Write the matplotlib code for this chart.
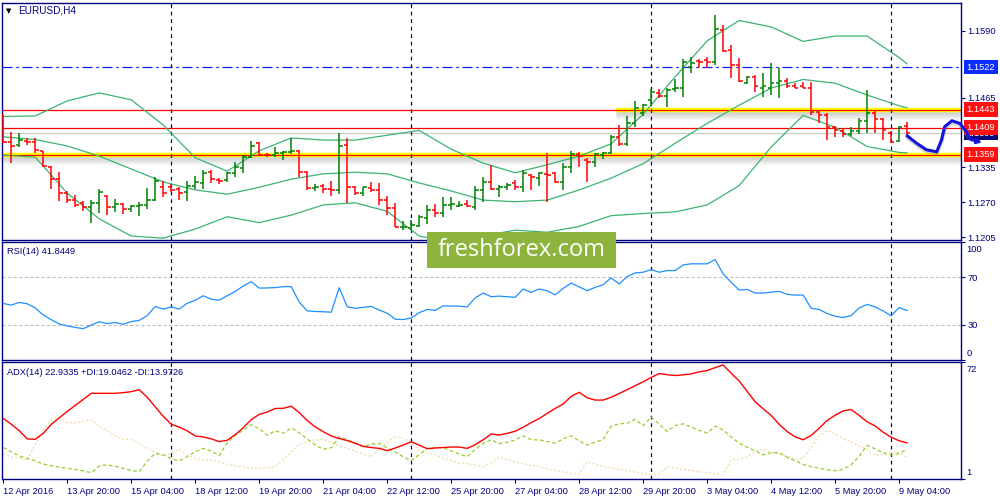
"""EURUSD H4 chart with Bollinger bands, RSI(14) and ADX(14) panels, MT4 style."""
import numpy as np
import matplotlib
matplotlib.use("Agg")
import matplotlib.pyplot as plt
from matplotlib.patches import Rectangle
from matplotlib.transforms import blended_transform_factory as blend

FS = 6.7
plt.rcParams.update({"font.family": "Liberation Sans", "font.size": FS})

NAVY = "#000080"
UP, DOWN = "#008000", "#ff0000"
BAND = "#3cb371"

# --- OHLC, one H4 bar per entry (12 Apr 12:00 .. 9 May 08:00) ---
opens = [1.1431, 1.1382, 1.1376, 1.1385, 1.1382, 1.1366, 1.1335, 1.1313, 1.1288, 1.1274,
         1.1268, 1.1262, 1.1268, 1.1282, 1.1261, 1.1266, 1.1257, 1.1263, 1.1265, 1.1274,
         1.1299, 1.1299, 1.1294, 1.1289, 1.1300, 1.1305, 1.1327, 1.1311, 1.1311, 1.1324,
         1.1334, 1.1355, 1.1380, 1.1359, 1.1358, 1.1362, 1.1363, 1.1366, 1.1327, 1.1296,
         1.1301, 1.1294, 1.1292, 1.1377, 1.1298, 1.1287, 1.1297, 1.1293, 1.1274, 1.1259,
         1.1223, 1.1222, 1.1226, 1.1240, 1.1256, 1.1250, 1.1265, 1.1263, 1.1267, 1.1262,
         1.1293, 1.1308, 1.1294, 1.1298, 1.1305, 1.1298, 1.1321, 1.1315, 1.1323, 1.1324,
         1.1308, 1.1336, 1.1360, 1.1349, 1.1346, 1.1358, 1.1361, 1.1392, 1.1379, 1.1418,
         1.1437, 1.1461, 1.1473, 1.1469, 1.1481, 1.1483, 1.1523, 1.1534, 1.1535, 1.1532,
         1.1591, 1.1554, 1.1526, 1.1493, 1.1504, 1.1484, 1.1484, 1.1493, 1.1497, 1.1487,
         1.1487, 1.1484, 1.1439, 1.1433, 1.1410, 1.1402, 1.1397, 1.1403, 1.1422, 1.1436,
         1.1425, 1.1399, 1.1385, 1.1412]
highs = [1.1435, 1.1401, 1.1399, 1.1390, 1.1390, 1.1366, 1.1338, 1.1327, 1.1291, 1.1283,
         1.1273, 1.1274, 1.1295, 1.1284, 1.1277, 1.1268, 1.1264, 1.1270, 1.1297, 1.1317,
         1.1310, 1.1304, 1.1298, 1.1310, 1.1319, 1.1331, 1.1331, 1.1315, 1.1327, 1.1346,
         1.1358, 1.1384, 1.1383, 1.1362, 1.1373, 1.1366, 1.1389, 1.1368, 1.1328, 1.1304,
         1.1304, 1.1310, 1.1400, 1.1389, 1.1301, 1.1298, 1.1307, 1.1305, 1.1282, 1.1268,
         1.1235, 1.1237, 1.1246, 1.1265, 1.1267, 1.1279, 1.1279, 1.1272, 1.1274, 1.1300,
         1.1318, 1.1340, 1.1302, 1.1306, 1.1311, 1.1331, 1.1323, 1.1327, 1.1361, 1.1327,
         1.1343, 1.1366, 1.1364, 1.1352, 1.1361, 1.1364, 1.1396, 1.1414, 1.1431, 1.1459,
         1.1454, 1.1481, 1.1481, 1.1483, 1.1499, 1.1537, 1.1540, 1.1538, 1.1540, 1.1619,
         1.1601, 1.1563, 1.1539, 1.1506, 1.1507, 1.1512, 1.1530, 1.1520, 1.1501, 1.1492,
         1.1495, 1.1495, 1.1441, 1.1436, 1.1412, 1.1406, 1.1410, 1.1427, 1.1479, 1.1443,
         1.1428, 1.1402, 1.1412, 1.1419]
lows = [1.1381, 1.1344, 1.1373, 1.1376, 1.1361, 1.1335, 1.1294, 1.1272, 1.1268, 1.1261,
        1.1254, 1.1232, 1.1250, 1.1247, 1.1252, 1.1249, 1.1252, 1.1244, 1.1257, 1.1273,
        1.1279, 1.1290, 1.1274, 1.1273, 1.1294, 1.1294, 1.1306, 1.1304, 1.1308, 1.1318,
        1.1325, 1.1353, 1.1358, 1.1354, 1.1355, 1.1348, 1.1360, 1.1317, 1.1292, 1.1291,
        1.1288, 1.1282, 1.1285, 1.1269, 1.1283, 1.1282, 1.1290, 1.1265, 1.1246, 1.1223,
        1.1218, 1.1218, 1.1224, 1.1230, 1.1242, 1.1242, 1.1256, 1.1261, 1.1261, 1.1256,
        1.1271, 1.1293, 1.1279, 1.1292, 1.1293, 1.1290, 1.1292, 1.1300, 1.1271, 1.1306,
        1.1293, 1.1325, 1.1335, 1.1308, 1.1335, 1.1350, 1.1360, 1.1374, 1.1375, 1.1410,
        1.1431, 1.1450, 1.1464, 1.1447, 1.1476, 1.1467, 1.1512, 1.1520, 1.1520, 1.1526,
        1.1551, 1.1501, 1.1495, 1.1491, 1.1476, 1.1467, 1.1470, 1.1464, 1.1483, 1.1483,
        1.1483, 1.1433, 1.1417, 1.1386, 1.1392, 1.1391, 1.1394, 1.1397, 1.1399, 1.1400,
        1.1386, 1.1380, 1.1383, 1.1391]
closes = [1.1382, 1.1374, 1.1386, 1.1383, 1.1367, 1.1338, 1.1313, 1.1288, 1.1274, 1.1265,
          1.1262, 1.1268, 1.1289, 1.1261, 1.1266, 1.1257, 1.1263, 1.1265, 1.1274, 1.1310,
          1.1288, 1.1293, 1.1287, 1.1300, 1.1307, 1.1325, 1.1313, 1.1310, 1.1324, 1.1335,
          1.1355, 1.1375, 1.1358, 1.1358, 1.1362, 1.1364, 1.1366, 1.1327, 1.1296, 1.1298,
          1.1294, 1.1292, 1.1375, 1.1298, 1.1287, 1.1298, 1.1293, 1.1274, 1.1259, 1.1223,
          1.1224, 1.1228, 1.1242, 1.1256, 1.1250, 1.1265, 1.1267, 1.1265, 1.1263, 1.1292,
          1.1308, 1.1294, 1.1299, 1.1303, 1.1299, 1.1324, 1.1317, 1.1324, 1.1321, 1.1308,
          1.1336, 1.1360, 1.1356, 1.1346, 1.1360, 1.1361, 1.1392, 1.1379, 1.1418, 1.1445,
          1.1451, 1.1476, 1.1469, 1.1479, 1.1483, 1.1532, 1.1530, 1.1532, 1.1532, 1.1593,
          1.1553, 1.1526, 1.1496, 1.1503, 1.1487, 1.1487, 1.1493, 1.1496, 1.1487, 1.1484,
          1.1483, 1.1439, 1.1433, 1.1411, 1.1404, 1.1397, 1.1403, 1.1422, 1.1437, 1.1425,
          1.1404, 1.1383, 1.1411, 1.1399]

# Bollinger bands, read every 4th bar
band_idx = [0, 4, 8, 12, 16, 20, 24, 28, 32, 36, 40, 44, 48, 52, 56, 60, 64, 68, 72, 76,
            80, 84, 88, 92, 96, 100, 104, 108, 112, 113]
bb_upper = [1.1430, 1.1431, 1.1459, 1.1474, 1.1461, 1.1414, 1.1353, 1.1328, 1.1366, 1.1390,
            1.1386, 1.1386, 1.1395, 1.1404, 1.1369, 1.1343, 1.1325, 1.1340, 1.1356, 1.1379,
            1.1434, 1.1504, 1.1571, 1.1609, 1.1597, 1.1570, 1.1580, 1.1580, 1.1540, 1.1528]
bb_middle = [1.1392, 1.1387, 1.1375, 1.1356, 1.1332, 1.1308, 1.1293, 1.1285, 1.1298, 1.1313,
             1.1323, 1.1326, 1.1323, 1.1306, 1.1291, 1.1274, 1.1271, 1.1274, 1.1293, 1.1315,
             1.1342, 1.1380, 1.1417, 1.1451, 1.1483, 1.1499, 1.1492, 1.1470, 1.1450, 1.1446]
bb_lower = [1.1358, 1.1354, 1.1287, 1.1239, 1.1207, 1.1203, 1.1220, 1.1243, 1.1232, 1.1246,
            1.1265, 1.1269, 1.1253, 1.1207, 1.1195, 1.1207, 1.1218, 1.1214, 1.1225, 1.1245,
            1.1249, 1.1252, 1.1265, 1.1301, 1.1373, 1.1432, 1.1410, 1.1374, 1.1363, 1.1362]

rsi = [47.8, 46.4, 48.7, 47.5, 44.0, 38.0, 34.0, 30.5, 28.8, 27.5,
       26.5, 29.5, 32.3, 30.8, 31.7, 30.2, 32.5, 33.5, 37.5, 45.3,
       43.0, 44.9, 43.0, 48.0, 50.5, 54.3, 51.3, 50.6, 54.3, 58.0,
       62.5, 66.2, 60.8, 60.9, 61.2, 62.0, 62.0, 49.0, 41.5, 41.0,
       40.8, 40.4, 61.1, 45.0, 43.7, 44.5, 45.3, 42.2, 39.6, 34.5,
       34.2, 35.5, 40.0, 42.7, 41.9, 45.8, 45.6, 45.5, 44.9, 52.5,
       56.6, 53.5, 54.0, 53.5, 53.0, 60.0, 57.2, 60.0, 58.6, 55.0,
       60.6, 65.0, 61.8, 58.6, 61.4, 63.7, 69.4, 64.3, 70.5, 73.6,
       74.2, 76.4, 74.2, 75.6, 75.6, 80.4, 81.3, 81.3, 81.3, 84.9,
       72.8, 65.7, 59.1, 59.7, 56.6, 56.6, 57.3, 58.0, 55.5, 54.9,
       54.9, 43.8, 42.7, 39.3, 37.0, 35.9, 37.5, 44.0, 47.0, 44.9,
       41.5, 37.3, 44.4, 41.8]
rsi_levels = [70, 30]

adx = [37.8, 34.2, 30.3, 25.3, 25.1, 28.7, 34.2, 38.1, 42.0, 45.7,
       49.3, 53.0, 53.0, 53.0, 53.0, 53.4, 54.0, 55.2, 50.6, 44.8,
       39.0, 34.2, 32.5, 30.2, 27.1, 26.5, 25.4, 23.7, 24.5, 27.9,
       32.1, 37.0, 40.2, 41.6, 43.8, 43.9, 45.2, 41.3, 36.5, 32.6,
       29.7, 27.1, 25.6, 24.3, 22.7, 20.8, 20.1, 19.6, 18.2, 19.8,
       21.6, 23.6, 21.5, 19.4, 19.8, 20.1, 20.4, 20.4, 19.6, 21.8,
       24.8, 28.3, 27.7, 28.7, 30.0, 32.4, 35.2, 37.7, 40.8, 43.8,
       46.5, 51.1, 53.6, 50.3, 48.9, 48.9, 50.6, 52.9, 55.2, 57.6,
       60.0, 62.6, 65.0, 64.3, 63.8, 64.2, 64.8, 66.0, 66.8, 68.6,
       70.2, 65.2, 60.5, 54.2, 47.9, 43.6, 39.6, 34.2, 29.8, 26.6,
       24.8, 27.4, 31.8, 36.5, 39.7, 42.3, 43.2, 39.6, 35.7, 33.2,
       29.4, 26.4, 24.2, 22.9]
plus_di = [20.2, 17.5, 15.0, 13.5, 12.0, 10.1, 9.1, 8.2, 7.5, 6.8,
           6.0, 4.8, 9.0, 9.6, 8.7, 7.5, 6.2, 5.5, 11.8, 16.6,
           15.6, 13.4, 12.0, 14.6, 17.5, 19.6, 18.0, 15.2, 23.0, 27.5,
           30.5, 34.0, 31.5, 27.5, 30.3, 28.7, 32.0, 29.0, 25.2, 21.6,
           19.0, 20.0, 26.5, 25.0, 22.6, 20.6, 22.2, 22.7, 19.8, 17.3,
           14.5, 12.1, 15.8, 19.5, 20.1, 20.1, 18.0, 16.1, 14.6, 19.0,
           22.5, 24.8, 22.5, 23.3, 24.6, 27.2, 24.8, 24.7, 23.8, 22.7,
           25.3, 27.2, 24.1, 21.6, 23.4, 24.9, 33.0, 34.5, 34.8, 37.2,
           33.3, 38.6, 34.4, 29.8, 33.5, 34.5, 32.5, 30.5, 28.9, 33.0,
           30.7, 26.5, 22.7, 20.3, 18.2, 15.6, 16.9, 17.0, 14.2, 12.1,
           9.8, 8.5, 7.5, 6.6, 6.1, 6.8, 9.6, 14.8, 21.4, 19.3,
           16.8, 15.6, 16.5, 19.0]
minus_di = [16.0, 14.5, 13.5, 12.5, 22.0, 30.5, 37.2, 37.8, 35.2, 35.0,
            36.0, 37.0, 33.0, 30.2, 27.0, 25.3, 24.9, 22.5, 19.5, 17.0,
            15.2, 16.6, 19.0, 15.5, 13.5, 12.5, 12.5, 11.4, 10.0, 9.0,
            8.3, 7.4, 7.3, 7.9, 8.6, 12.5, 17.5, 22.0, 23.8, 24.8,
            25.1, 23.2, 21.0, 19.8, 17.8, 16.0, 14.5, 19.5, 23.4, 26.6,
            25.8, 23.0, 18.5, 17.2, 15.8, 13.6, 12.3, 10.6, 10.3, 9.6,
            8.5, 11.0, 14.0, 13.0, 11.5, 10.2, 9.4, 8.6, 7.2, 6.3,
            5.3, 4.5, 4.0, 11.4, 10.2, 8.6, 7.6, 6.8, 6.1, 5.2,
            4.3, 3.6, 4.0, 8.4, 7.7, 6.8, 6.2, 5.4, 4.9, 4.2,
            3.6, 12.5, 13.1, 14.3, 18.0, 18.8, 17.5, 16.1, 14.8, 13.3,
            13.5, 20.0, 27.0, 30.5, 28.1, 25.7, 23.4, 21.0, 19.0, 15.3,
            16.0, 17.3, 16.8, 14.0]

time_labels = ["12 Apr 2016", "13 Apr 20:00", "15 Apr 04:00", "18 Apr 12:00",
               "19 Apr 20:00", "21 Apr 04:00", "22 Apr 12:00", "25 Apr 20:00",
               "27 Apr 04:00", "28 Apr 12:00", "29 Apr 20:00", "3 May 04:00",
               "4 May 12:00", "5 May 20:00", "9 May 04:00"]
label_bars = [0, 8, 16, 24, 32, 40, 48, 56, 64, 72, 80, 88, 96, 104, 112]
separator_bars = [21, 51, 81, 111]

price_ticks = [1.1205, 1.1270, 1.1335, 1.1465, 1.1590]
level_dash = 1.1522
level_res = 1.1443
level_mid = 1.1409
level_sup = 1.1359
bid = 1.1399
res_start = 76.6

# hand-drawn forecast stroke (bar index, price)
forecast_x = [113.0, 114.2, 115.4, 116.7, 117.3, 117.7, 118.6, 119.6, 120.4, 120.8]
forecast_y = [1.1394, 1.1380, 1.1368, 1.1364, 1.1386, 1.1411, 1.1422, 1.1417, 1.1402, 1.1390]

# --- layout (pixels of a 1000x500 canvas) ---
W, H = 1000, 500
LEFT, RIGHT = 2.0, 960.7
XLIM = (-0.16, 119.7)
YLIM = (1.11996, 1.16422)
PX = (YLIM[1] - YLIM[0]) / (240 - 2.7)


def frame(top, bottom):
    return [LEFT / W, 1 - bottom / H, (RIGHT - LEFT) / W, (bottom - top) / H]


fig = plt.figure(figsize=(10, 5), dpi=100)
ax = fig.add_axes(frame(2.7, 240))
ax_rsi = fig.add_axes(frame(241.7, 360))
ax_adx = fig.add_axes(frame(362, 479))
LBL_X = (966.5 - LEFT) / (RIGHT - LEFT)

for a in (ax, ax_rsi, ax_adx):
    a.set_xlim(*XLIM)
    for s in a.spines.values():
        s.set_color(NAVY)
        s.set_linewidth(1.0)
    a.yaxis.tick_right()
    a.tick_params(axis="y", colors=NAVY, length=3, width=0.8, pad=2, labelsize=FS)
    a.tick_params(axis="x", bottom=False, labelbottom=False)
    for k in separator_bars:
        a.axvline(k, color=NAVY, lw=0.9, ls=(0, (3, 3)), zorder=2)

# --- main price panel ---
ax.set_ylim(*YLIM)
ax.set_yticks(price_ticks, [f"{p:.4f}" for p in price_ticks])


def shadow(y, x0=XLIM[0]):
    for i in range(1, 9):
        ax.hlines(y - (i + 1.5) * PX, x0, XLIM[1], color="0.45",
                  alpha=0.30 * (1 - i / 9), lw=1.0, zorder=1)


shadow(level_sup)
shadow(level_res, res_start)
ax.axhline(level_sup, color="#ffff00", lw=3.2, zorder=1.5)
ax.hlines(level_res, res_start, XLIM[1], color="#ffff00", lw=3.2, zorder=1.5)
for lv in (level_sup, level_res, level_mid):
    ax.axhline(lv, color="red", lw=0.9, zorder=1.6)
ax.axhline(bid, color="#c8c8c8", lw=0.8, zorder=1.4)
ax.axhline(level_dash, color="#0022ff", lw=0.9, ls=(0, (8, 3, 2, 3)), zorder=1.6)

for band in (bb_upper, bb_middle, bb_lower):
    ax.plot(band_idx, band, color=BAND, lw=0.9, zorder=3)

x = np.arange(len(opens))
cols = [UP if c >= o else DOWN for o, c in zip(opens, closes)]
ax.vlines(x, lows, highs, colors=cols, lw=1.1, zorder=4)
ax.hlines(opens, x - 0.42, x, colors=cols, lw=1.1, zorder=4)
ax.hlines(closes, x, x + 0.42, colors=cols, lw=1.1, zorder=4)

tr = blend(ax.transAxes, ax.transData)
for price, fc in [(level_dash, "#0a2cff"), (level_res, "#ff1010"), (bid, "#0a0a7a"),
                  (level_mid, "#ff1010"), (level_sup, "#ff1010")]:
    ax.text(LBL_X, price, f"{price:.4f}", transform=tr, color="white", ha="left",
            va="center", fontsize=FS, clip_on=False, zorder=20,
            bbox=dict(boxstyle="square,pad=0.3", fc=fc, ec="none"))

ax.plot(forecast_x, np.array(forecast_y) - 1.5 * PX, color="0.5", alpha=0.35, lw=3,
        clip_on=False, zorder=24, solid_capstyle="round")
ax.plot(forecast_x, forecast_y, color="#1414e0", lw=2.2, clip_on=False, zorder=25,
        solid_capstyle="round", solid_joinstyle="round")
arr = ax.annotate("", xy=(122.7, 1.1380), xytext=(120.6, 1.1388), annotation_clip=False,
                  arrowprops=dict(arrowstyle="-|>", color="#1414e0", lw=1.8,
                                  mutation_scale=7), zorder=25)
arr.arrow_patch.set_clip_on(False)

# --- RSI panel ---
ax_rsi.set_ylim(0, 100)
for lv in rsi_levels:
    ax_rsi.axhline(lv, color="#c0c0c0", lw=0.8, ls=(0, (3, 2)), zorder=1)
ax_rsi.plot(x, rsi, color="#1e90ff", lw=0.9, zorder=3)
ax_rsi.set_yticks([0, 30, 70, 100], ["", "30", "70", ""])
ax_rsi.text(LBL_X, 1 - 7.6 / 118.3, "100", transform=ax_rsi.transAxes, color=NAVY,
            va="center", ha="left", clip_on=False)
ax_rsi.text(LBL_X, 6.7 / 118.3, "0", transform=ax_rsi.transAxes, color=NAVY,
            va="center", ha="left", clip_on=False)

# --- ADX panel ---
ax_adx.set_ylim(1, 72)
ax_adx.plot(x, minus_di, color="#f5deb3", lw=1.0, ls=(0, (1.5, 1.5)), zorder=2)
ax_adx.plot(x, plus_di, color="#9acd32", lw=0.9, ls=(0, (3, 2)), zorder=3)
ax_adx.plot(x, adx, color="red", lw=1.0, zorder=4)
ax_adx.set_yticks([1, 72], ["", ""])
ax_adx.text(LBL_X, 1 - 8 / 117, "72", transform=ax_adx.transAxes, color=NAVY,
            va="center", ha="left", clip_on=False)
ax_adx.text(LBL_X, 6.3 / 117, "1", transform=ax_adx.transAxes, color=NAVY,
            va="center", ha="left", clip_on=False)
ax_adx.set_xticks(label_bars, time_labels)
ax_adx.tick_params(axis="x", bottom=True, labelbottom=True, colors=NAVY, length=3,
                   width=0.8, pad=2.5, labelsize=FS)
for t in ax_adx.get_xticklabels():
    t.set_ha("left")

# --- captions and watermark ---
fig.text(6 / W, 1 - 10.7 / H, "\u25bc", family="DejaVu Sans", fontsize=5, color="black",
         va="center")
fig.text(18 / W, 1 - 10.7 / H, "EURUSD,H4", color=NAVY, va="center", fontsize=7.2)
fig.text(7.3 / W, 1 - 251.7 / H, "RSI(14) 41.8449", color=NAVY, va="center")
fig.text(7.3 / W, 1 - 372.3 / H, "ADX(14) 22.9335 +DI:19.0462 -DI:13.9726", color=NAVY,
         va="center")

fig.add_artist(Rectangle((427 / W, 1 - 268 / H), 189 / W, 36 / H, transform=fig.transFigure,
                         fc="#8db53e", ec="none", zorder=30))
fig.text(521.5 / W, 1 - 250.5 / H, "freshforex.com", ha="center", va="center",
         color="white", fontsize=17, family="Open Sans", zorder=31)

fig.savefig("out.png", dpi=100)
